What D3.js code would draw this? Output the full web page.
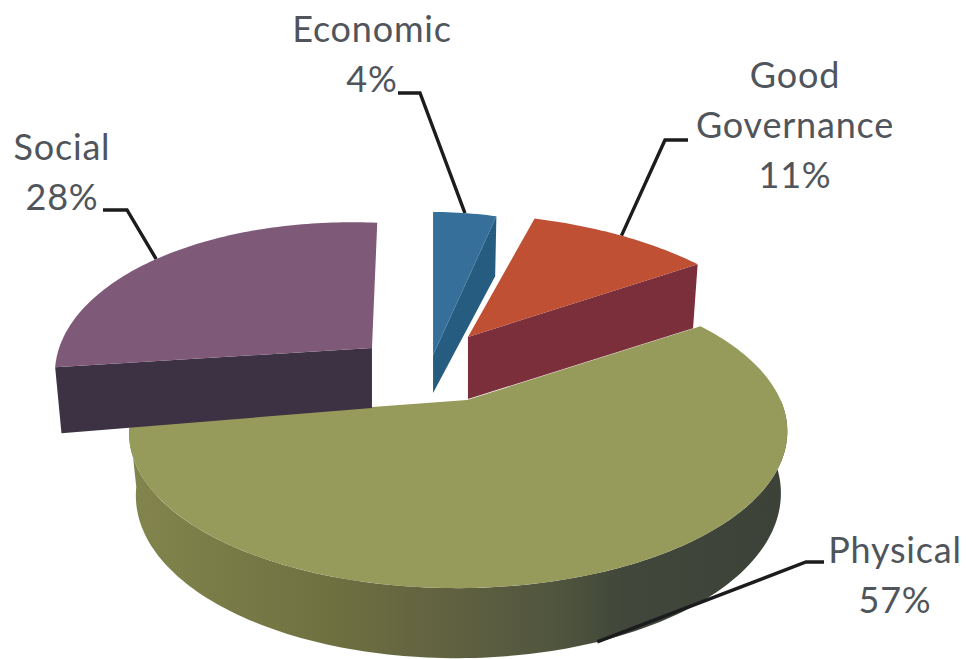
<!DOCTYPE html>
<html>
<head>
<meta charset="utf-8">
<title>Exploded 3D pie</title>
<script src="https://cdnjs.cloudflare.com/ajax/libs/d3/7.8.5/d3.min.js"></script>
<style>
  html, body { margin: 0; padding: 0; background: #fff; }
  svg { display: block; }
  text { font-family: Lato, "Open Sans", sans-serif; font-size: 36px; letter-spacing: 0.8px; fill: #50555b; text-anchor: middle; }
</style>
</head>
<body>
<svg id="chart" width="966" height="659"></svg>
<script>
// Series
const categories = ["Economic", "Good Governance", "Physical", "Social"];
const values = [4, 11, 57, 28];
const labelLines = [["Economic"], ["Good", "Governance"], ["Physical"], ["Social"]];

// Look of each wedge
const topColors = ["#356f9a", "#bf5034", "#969a5a", "#7f5a78"];
const sideColors = ["#255c80", "#7a2f3a", null, "#3d3244"];

// Explosion of each wedge across the pie plane, in pie radii
const explodeU = [-0.106, 0.003, 0, -0.297];
const explodeV = [0.302, 0.423, 0, 0.349];
// Small per-wedge corrections to the projected outline
const stretchU = [0.96, 1.01, 1.005, 0.945];
const stretchV = [1.16, 1, 1, 1.015];
const leanU = [0, 0, 0.03, 0.02];
const leanV = [0, -0.04, -0.03, -0.07];
const apexDepth = [38, 62, 60, 60];
const rimDepth = [60, 64, 60, 64];

// Label placement: centre x, first baseline, leader elbow and leader tail
const labelX = [372, 795, 895, 62];
const labelY = [42, 88, 563, 160];
const elbowX = [420, 665, 806, 127];
const elbowY = [93, 140, 562, 210];
const tailX = [398, 688, 824, 103];
const leaderAt = [0.5, 0.5, 0.51, 0.47];

const svg = d3.select("#chart");

// Pie plane to screen
const originX = 467, originY = 400;
const perspectiveV = 0.208, perspectiveU = 0.02, wallTaper = 0.02, frontGrowth = 0.167;
const scaleU = d3.scaleLinear().domain([-1, 1]).range([originX - 320, originX + 320]);
const scaleV = d3.scaleLinear().domain([-1, 1]).range([originY + 149, originY - 149]);

const pie = d3.pie().sort(null).value(d => d);
const arcs = pie(values);

function apex(i, level) {
  return [scaleU(explodeU[i]), scaleV(explodeV[i]) + level * apexDepth[i]];
}

function rimPoint(i, angle, level) {
  const [ax, ay] = apex(i, 0);
  const u = Math.sin(angle), v = Math.cos(angle);
  const s = 1 / (1 + perspectiveV * v + perspectiveU * u);
  const dx = (scaleU(u * stretchU[i] + leanU[i] * v) - originX) * s * (1 - wallTaper * level);
  const dy = (scaleV(v * stretchV[i] + leanV[i] * u) - originY) * s;
  const depth = rimDepth[i] * (1 - Math.min(v, 0) * frontGrowth);
  return [ax + dx, ay + dy + level * depth];
}

function rim(i, from, to, level) {
  const steps = Math.max(2, Math.ceil(Math.abs(to - from) / 0.02));
  return d3.range(steps + 1).map(k => rimPoint(i, from + (to - from) * k / steps, level));
}

const line = d3.line();

const gradient = svg.append("defs").append("linearGradient")
  .attr("id", "physicalWall");
gradient.selectAll("stop")
  .data([["0%", "#82854c"], ["30%", "#6f7141"], ["50%", "#5f6040"], ["65%", "#50553e"], ["75%", "#41473a"], ["100%", "#3c4238"]])
  .join("stop")
  .attr("offset", d => d[0])
  .attr("stop-color", d => d[1]);

function drawCutFace(i, angle) {
  const shape = [apex(i, 0), rimPoint(i, angle, 0), rimPoint(i, angle, 1), apex(i, 1)];
  svg.append("path").attr("d", line(shape) + "Z").attr("fill", sideColors[i]);
}

function drawTop(i) {
  const a = arcs[i];
  const shape = [apex(i, 0), ...rim(i, a.startAngle, a.endAngle, 0)];
  svg.append("path").attr("d", line(shape) + "Z").attr("fill", topColors[i]);
}

// Physical sits underneath: outer wall first, then its top
const phys = categories.indexOf("Physical");
const wall = [
  ...rim(phys, arcs[phys].startAngle + 0.6, arcs[phys].endAngle, 0),
  ...rim(phys, arcs[phys].endAngle, arcs[phys].startAngle + 0.6, 1)
];
svg.append("path").attr("d", line(wall) + "Z").attr("fill", "url(#physicalWall)");
drawTop(phys);

// Leader lines run from each label elbow to the rim of its wedge
values.forEach((v, i) => {
  const a = arcs[i];
  const at = a.startAngle + (a.endAngle - a.startAngle) * leaderAt[i];
  const end = rimPoint(i, at, i === phys ? 1 : 0);
  svg.append("path")
    .attr("class", "leader")
    .attr("d", line([[tailX[i], elbowY[i]], [elbowX[i], elbowY[i]], end]))
    .attr("fill", "none")
    .attr("stroke", "#1c1c1e")
    .attr("stroke-width", 3.4);
});

// Remaining wedges lie over Physical and the leader ends
[1, 0, 3].forEach(i => {
  const a = arcs[i];
  drawCutFace(i, i === 3 ? a.startAngle : a.endAngle);
  drawTop(i);
});

// Labels: name lines, then the share
values.forEach((v, i) => {
  const rows = [...labelLines[i], v + "%"];
  rows.forEach((row, r) => {
    svg.append("text")
      .attr("x", labelX[i])
      .attr("y", labelY[i] + r * 50)
      .text(row);
  });
});
</script>
</body>
</html>
